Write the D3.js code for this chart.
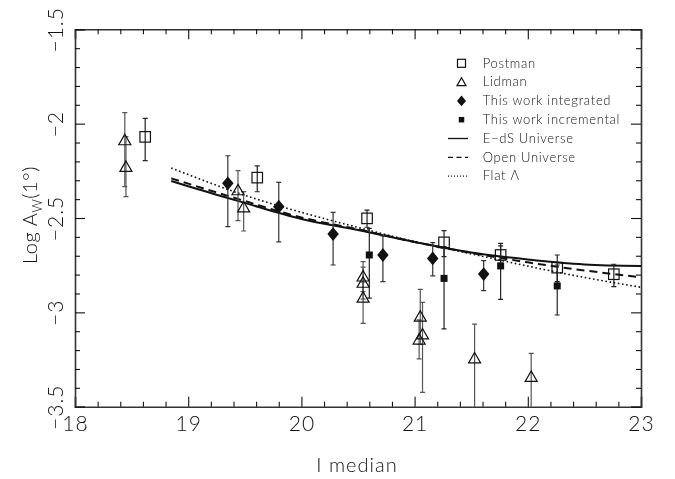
<!DOCTYPE html>
<html><head><meta charset="utf-8">
<script src="https://cdn.jsdelivr.net/npm/d3@7"></script>
<style>
body{margin:0;background:#fff;}
svg{will-change:transform;}
svg text{font-family:"Lato","Liberation Sans","DejaVu Sans",sans-serif;font-weight:300;fill:#111;opacity:0.999;-webkit-font-smoothing:antialiased;}
</style></head>
<body><svg id="c" width="675" height="479"></svg>
<script>
// ---- data ----
const xTicks = [18, 19, 20, 21, 22, 23];
const yTicks = [-3.5, -3, -2.5, -2, -1.5];
const xTickLabels = ["18", "19", "20", "21", "22", "23"];
const yTickLabels = ["\u22123.5", "\u22123", "\u22122.5", "\u22122", "\u22121.5"];

const postmanX  = [18.62, 19.61, 20.58, 21.26, 21.76, 22.26, 22.76];
const postmanY  = [-2.070, -2.286, -2.502, -2.629, -2.696, -2.763, -2.798];
const postmanHi = [-1.972, -2.224, -2.458, -2.567, -2.634, -2.696, -2.745];
const postmanLo = [-2.196, -2.361, -2.549, -2.705, -2.740, -2.837, -2.864];

const lidmanX  = [18.44, 18.45, 19.44, 19.49, 20.545, 20.545, 20.545, 21.05, 21.07, 21.04, 21.53, 22.03];
const lidmanY  = [-2.087, -2.228, -2.352, -2.443, -2.809, -2.842, -2.921, -3.022, -3.116, -3.143, -3.243, -3.341];
const lidmanHi = [-1.942, -2.069, -2.249, -2.360, -2.731, -2.760, -2.840, -2.878, -2.947, -3.040, -3.062, -3.217];
const lidmanLo = [-2.334, -2.387, -2.514, -2.569, -2.890, -2.930, -3.058, -3.170, -3.424, -3.247, -3.600, -3.600];

const integX  = [19.35, 19.80, 20.28, 20.72, 21.16, 21.61];
const integY  = [-2.316, -2.440, -2.585, -2.696, -2.714, -2.797];
const integHi = [-2.170, -2.311, -2.470, -2.595, -2.631, -2.726];
const integLo = [-2.546, -2.626, -2.749, -2.837, -2.807, -2.885];

const incrX  = [20.60, 21.26, 21.76, 22.26];
const incrY  = [-2.696, -2.820, -2.754, -2.860];
const incrHi = [-2.555, -2.652, -2.648, -2.749];
const incrLo = [-2.925, -3.088, -2.931, -3.014];

const modelX   = [18.85, 19.0, 19.5, 20.0, 20.5, 21.0, 21.5, 22.0, 22.5, 23.0];
const edsY     = [-2.304, -2.332, -2.420, -2.505, -2.564, -2.627, -2.683, -2.720, -2.746, -2.754];
const openY    = [-2.290, -2.318, -2.410, -2.497, -2.560, -2.627, -2.685, -2.735, -2.778, -2.814];
const flatY    = [-2.235, -2.270, -2.380, -2.470, -2.550, -2.625, -2.690, -2.755, -2.815, -2.867];

const legendLabels = ["Postman", "Lidman", "This work integrated", "This work incremental", "E\u2212dS Universe", "Open Universe", "Flat \u039B"];

// ---- layout ----
const svg = d3.select("#c");
const L = 75, R = 641, T = 29.3, B = 406.7;
const x = d3.scaleLinear().domain([18, 23]).range([L, R]);
const y = d3.scaleLinear().domain([-3.5, -1.5]).range([B, T]);
const ink = "#111";

svg.append("rect").attr("width", 675).attr("height", 479).attr("fill", "#fff");
svg.append("defs").append("clipPath").attr("id", "clip")
  .append("rect").attr("x", L).attr("y", T).attr("width", R - L).attr("height", B - T);

const minorX = d3.range(18, 23.001, 0.2).map(v => +v.toFixed(2)).filter(v => !xTicks.includes(v));
const minorY = d3.range(-3.5, -1.499, 0.1).map(v => +v.toFixed(2)).filter(v => !yTicks.includes(v));

function styleAxis(g) {
  g.select(".domain").attr("stroke", "#333").attr("stroke-width", 1.6);
  g.selectAll(".tick line").attr("stroke", ink).attr("stroke-width", 1.1);
}

// bottom
const gb = svg.append("g").attr("transform", `translate(0,${B})`)
  .call(d3.axisBottom(x).tickValues(xTicks).tickSize(-10).tickPadding(9)
    .tickFormat((d, i) => xTickLabels[i]));
styleAxis(gb);
gb.selectAll("text").attr("font-size", 21).attr("fill", ink).attr("letter-spacing", 1);
svg.append("g").attr("transform", `translate(0,${B})`)
  .call(d3.axisBottom(x).tickValues(minorX).tickSize(-5).tickFormat("")).call(styleAxis)
  .select(".domain").remove();
// top
svg.append("g").attr("transform", `translate(0,${T})`)
  .call(d3.axisTop(x).tickValues(xTicks).tickSize(-10).tickFormat("")).call(styleAxis);
svg.append("g").attr("transform", `translate(0,${T})`)
  .call(d3.axisTop(x).tickValues(minorX).tickSize(-5).tickFormat("")).call(styleAxis)
  .select(".domain").remove();
// left
const gl = svg.append("g").attr("transform", `translate(${L},0)`)
  .call(d3.axisLeft(y).tickValues(yTicks).tickSize(-10).tickFormat((d, i) => yTickLabels[i]));
styleAxis(gl);
gl.selectAll("text").attr("x", null).attr("dy", null).attr("font-size", 21).attr("letter-spacing", 1)
  .attr("text-anchor", "middle").attr("transform", "translate(-12,0) rotate(-90)").attr("fill", ink);
svg.append("g").attr("transform", `translate(${L},0)`)
  .call(d3.axisLeft(y).tickValues(minorY).tickSize(-5).tickFormat("")).call(styleAxis)
  .select(".domain").remove();
// right
svg.append("g").attr("transform", `translate(${R},0)`)
  .call(d3.axisRight(y).tickValues(yTicks).tickSize(-10).tickFormat("")).call(styleAxis);
svg.append("g").attr("transform", `translate(${R},0)`)
  .call(d3.axisRight(y).tickValues(minorY).tickSize(-5).tickFormat("")).call(styleAxis)
  .select(".domain").remove();
svg.selectAll("g").attr("font-family", null);

// axis titles
svg.append("text").attr("x", 357).attr("y", 472).attr("text-anchor", "middle")
  .attr("font-size", 20).attr("letter-spacing", 1).text("I median");
const yl = svg.append("text").attr("transform", "translate(37,215) rotate(-90)")
  .attr("text-anchor", "middle").attr("font-size", 20).attr("letter-spacing", 0.6);
yl.append("tspan").text("Log A");
yl.append("tspan").attr("font-size", 13).attr("dy", 5).text("W");
yl.append("tspan").attr("dy", -5).text("(1\u00B0)");

// ---- curves ----
const plot = svg.append("g").attr("clip-path", "url(#clip)");
const line = d3.line().x(d => x(d[0])).y(d => y(d[1])).curve(d3.curveMonotoneX);
const curves = [
  {ys: edsY, dash: null, w: 2.0},
  {ys: openY, dash: "8,5", w: 2.0},
  {ys: flatY, dash: "1.6,2.6", w: 1.6}
];
curves.forEach(c => {
  plot.append("path").datum(modelX.map((v, i) => [v, c.ys[i]]))
    .attr("d", line).attr("fill", "none").attr("stroke", ink)
    .attr("stroke-width", c.w).attr("stroke-dasharray", c.dash);
});

// ---- error bars ----
function errBars(xs, hi, lo, color) {
  const g = plot.append("g").attr("stroke", color).attr("stroke-width", 1.2);
  xs.forEach((v, i) => {
    const cx = x(v);
    g.append("line").attr("x1", cx).attr("x2", cx).attr("y1", y(hi[i])).attr("y2", y(lo[i]));
    [hi[i], lo[i]].forEach(e => {
      g.append("line").attr("x1", cx - 2.5).attr("x2", cx + 2.5).attr("y1", y(e)).attr("y2", y(e));
    });
  });
}
errBars(lidmanX, lidmanHi, lidmanLo, "#555");
errBars(postmanX, postmanHi, postmanLo, "#222");
errBars(integX, integHi, integLo, "#333");
errBars(incrX, incrHi, incrLo, "#222");

// ---- markers ----
function drawMarker(g, type, cx, cy, s) {
  if (type === "square") {
    g.append("rect").attr("x", cx - s / 2).attr("y", cy - s / 2).attr("width", s).attr("height", s)
      .attr("fill", "none").attr("stroke", ink).attr("stroke-width", 1.2);
  } else if (type === "triangle") {
    const h = s * 0.87;
    g.append("path").attr("d", `M${cx},${cy - h * 0.55}L${cx + s / 2},${cy + h * 0.45}L${cx - s / 2},${cy + h * 0.45}Z`)
      .attr("fill", "none").attr("stroke", ink).attr("stroke-width", 1.2);
  } else if (type === "diamond") {
    g.append("path").attr("d", `M${cx},${cy - s * 0.6}L${cx + s / 2},${cy}L${cx},${cy + s * 0.6}L${cx - s / 2},${cy}Z`)
      .attr("fill", ink);
  } else if (type === "fsquare") {
    g.append("rect").attr("x", cx - s / 2).attr("y", cy - s / 2).attr("width", s).attr("height", s).attr("fill", ink);
  }
}
const mg = plot.append("g");
lidmanX.forEach((v, i) => drawMarker(mg, "triangle", x(v), y(lidmanY[i]), 12));
postmanX.forEach((v, i) => drawMarker(mg, "square", x(v), y(postmanY[i]), 10.5));
integX.forEach((v, i) => drawMarker(mg, "diamond", x(v), y(integY[i]), 11.5));
incrX.forEach((v, i) => drawMarker(mg, "fsquare", x(v), y(incrY[i]), 7));

// ---- legend ----
const lg = svg.append("g");
const ly0 = 63.3, ldy = 18.8, lsx = 461.5, ltx = 482.7;
const legendTypes = ["square", "triangle", "diamond", "fsquare", "solid", "dash", "dot"];
const legendSizes = [8, 9, 9, 5.5];
legendLabels.forEach((lab, i) => {
  const cy = ly0 + i * ldy;
  const t = legendTypes[i];
  if (i < 4) drawMarker(lg, t, lsx, cy, legendSizes[i]);
  else {
    lg.append("line").attr("x1", 448).attr("x2", 468).attr("y1", cy).attr("y2", cy)
      .attr("stroke", ink).attr("stroke-width", t === "dot" ? 1.1 : 1.3)
      .attr("stroke-dasharray", t === "dash" ? "5,3.5" : t === "dot" ? "1,2" : null);
  }
  lg.append("text").attr("x", ltx).attr("y", cy + 4.3).attr("font-size", 13)
    .attr("letter-spacing", 0.7).text(lab);
});
</script></body></html>
